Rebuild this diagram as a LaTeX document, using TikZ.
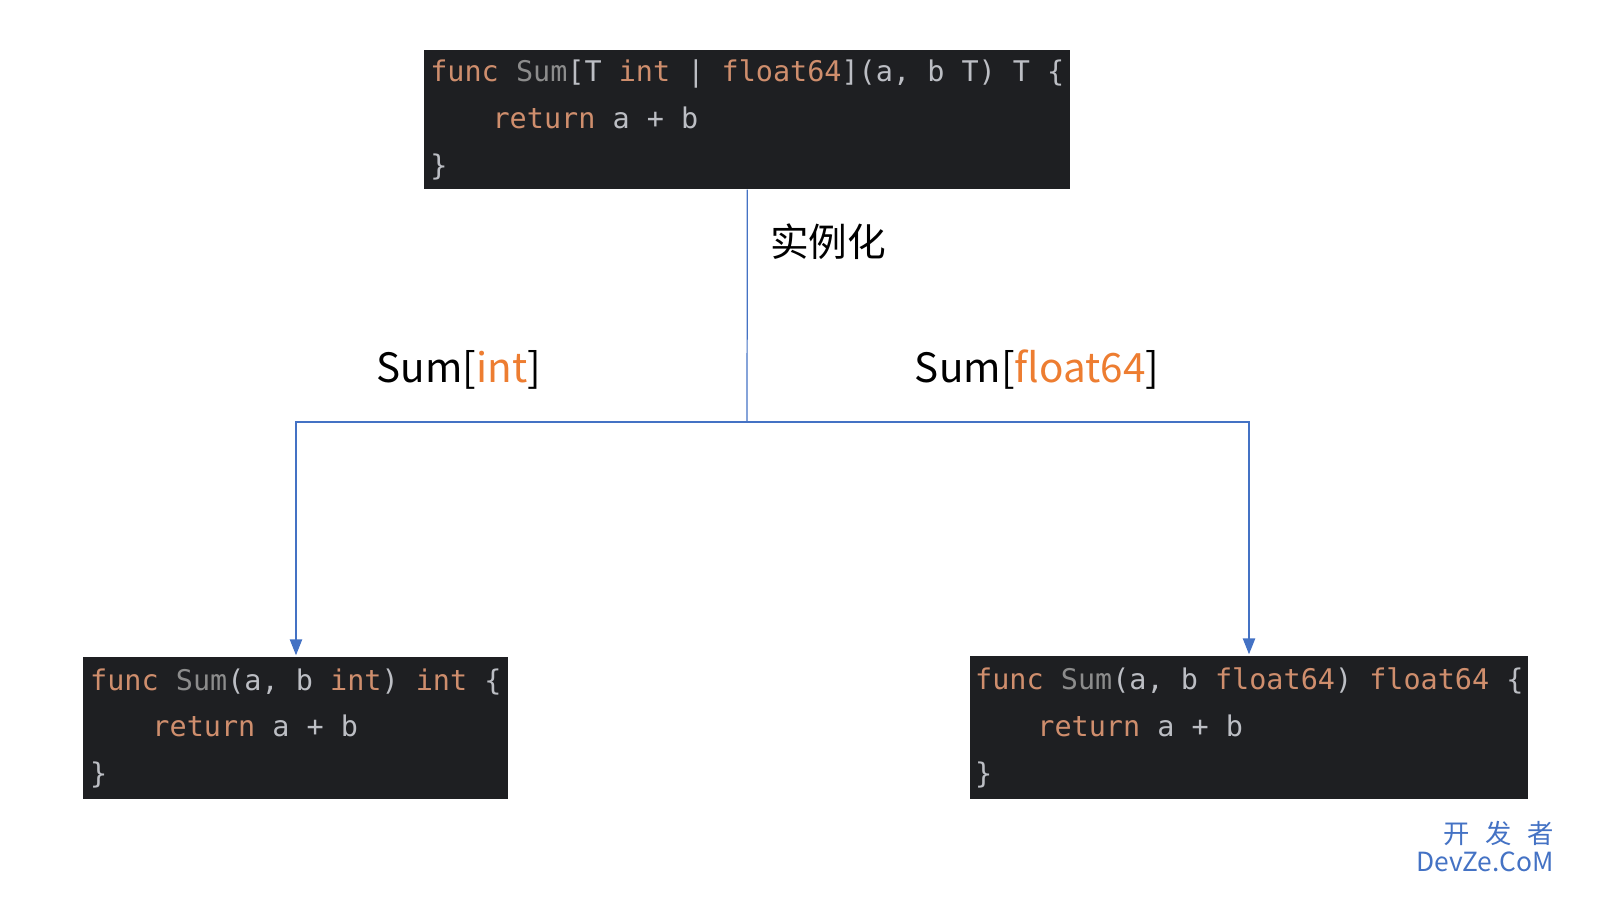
\documentclass[tikz,border=0pt]{standalone}
\usepackage{fontspec}
\setmonofont{DejaVu Sans Mono}
\newfontfamily\cjk{Noto Sans CJK SC}
\usetikzlibrary{positioning,arrows.meta}
\definecolor{codebg}{HTML}{1E1F22}
\definecolor{codefg}{HTML}{BCBEC4}
\definecolor{kwcol}{HTML}{CF8E6D}
\definecolor{fncol}{HTML}{8C8C8C}
\definecolor{argcol}{HTML}{ED7D31}
\definecolor{linecol}{HTML}{4472C4}
\newcommand{\kw}[1]{\textcolor{kwcol}{#1}}
\newcommand{\fn}[1]{\textcolor{fncol}{#1}}
\newcommand{\targ}[1]{\textcolor{argcol}{#1}}
\tikzset{
  code/.style={rectangle, fill=codebg, text=codefg, anchor=north west, align=left,
    inner xsep=1pt, inner ysep=0pt, font=\ttfamily\fontsize{16.2}{26.6}\selectfont},
  link/.style={draw=linecol, line width=0.7pt},
  ptr/.style={link, -{Triangle[width=7pt,length=9pt,fill=linecol]}},
  inst/.style={font=\cjk\fontsize{23}{28}\selectfont}
}
\begin{document}
\begin{tikzpicture}[x=0.02cm, y=-0.02cm]
    \useasboundingbox (0,0) rectangle (1612,911);

    % generic function
    \node[code, minimum width=646*0.02cm, minimum height=139*0.02cm] (gen) at (424,50)
    {\kw{func} \fn{Sum}[T \kw{int} | \kw{float64}](a, b T) T \{\\
     \hspace*{4ex}\kw{return} a + b\\
     \}};

    % instances
    \node[code, minimum width=425*0.02cm, minimum height=142*0.02cm] (sint) at (83,657)
    {\kw{func} \fn{Sum}(a, b \kw{int}) \kw{int} \{\\
     \hspace*{4ex}\kw{return} a + b\\
     \}};
    \node[code, minimum width=558*0.02cm, minimum height=143*0.02cm] (sfloat) at (970,656)
    {\kw{func} \fn{Sum}(a, b \kw{float64}) \kw{float64} \{\\
     \hspace*{4ex}\kw{return} a + b\\
     \}};

    \coordinate (split) at (747,422);
    \draw[link] (gen.south) -- (split);
    \draw[ptr] (split) -| ([yshift=1pt]sint.north -| 296,0);
    \draw[ptr] (split) -| ([yshift=1pt]sfloat.north -| 1249,0);

    \node[font=\cjk\fontsize{22}{26}\selectfont, anchor=west] (lbl) at (764,242) {实例化};
    \node[inst] (lint) at (459,370) {Sum[\targ{int}]};
    \node[inst] (lfloat) at (1037,370) {Sum[\targ{float64}]};

    \node[text=linecol, font=\cjk\fontsize{15}{17}\selectfont, anchor=south east] (mark) at (1560,852)
    {开\hspace{0.6em}发\hspace{0.6em}者};
    \node[text=linecol, font=\cjk\fontsize{15}{17}\selectfont, anchor=north east, inner ysep=1pt] (site) at (1560,850)
    {DevZe.CoM};
\end{tikzpicture}
\end{document}
